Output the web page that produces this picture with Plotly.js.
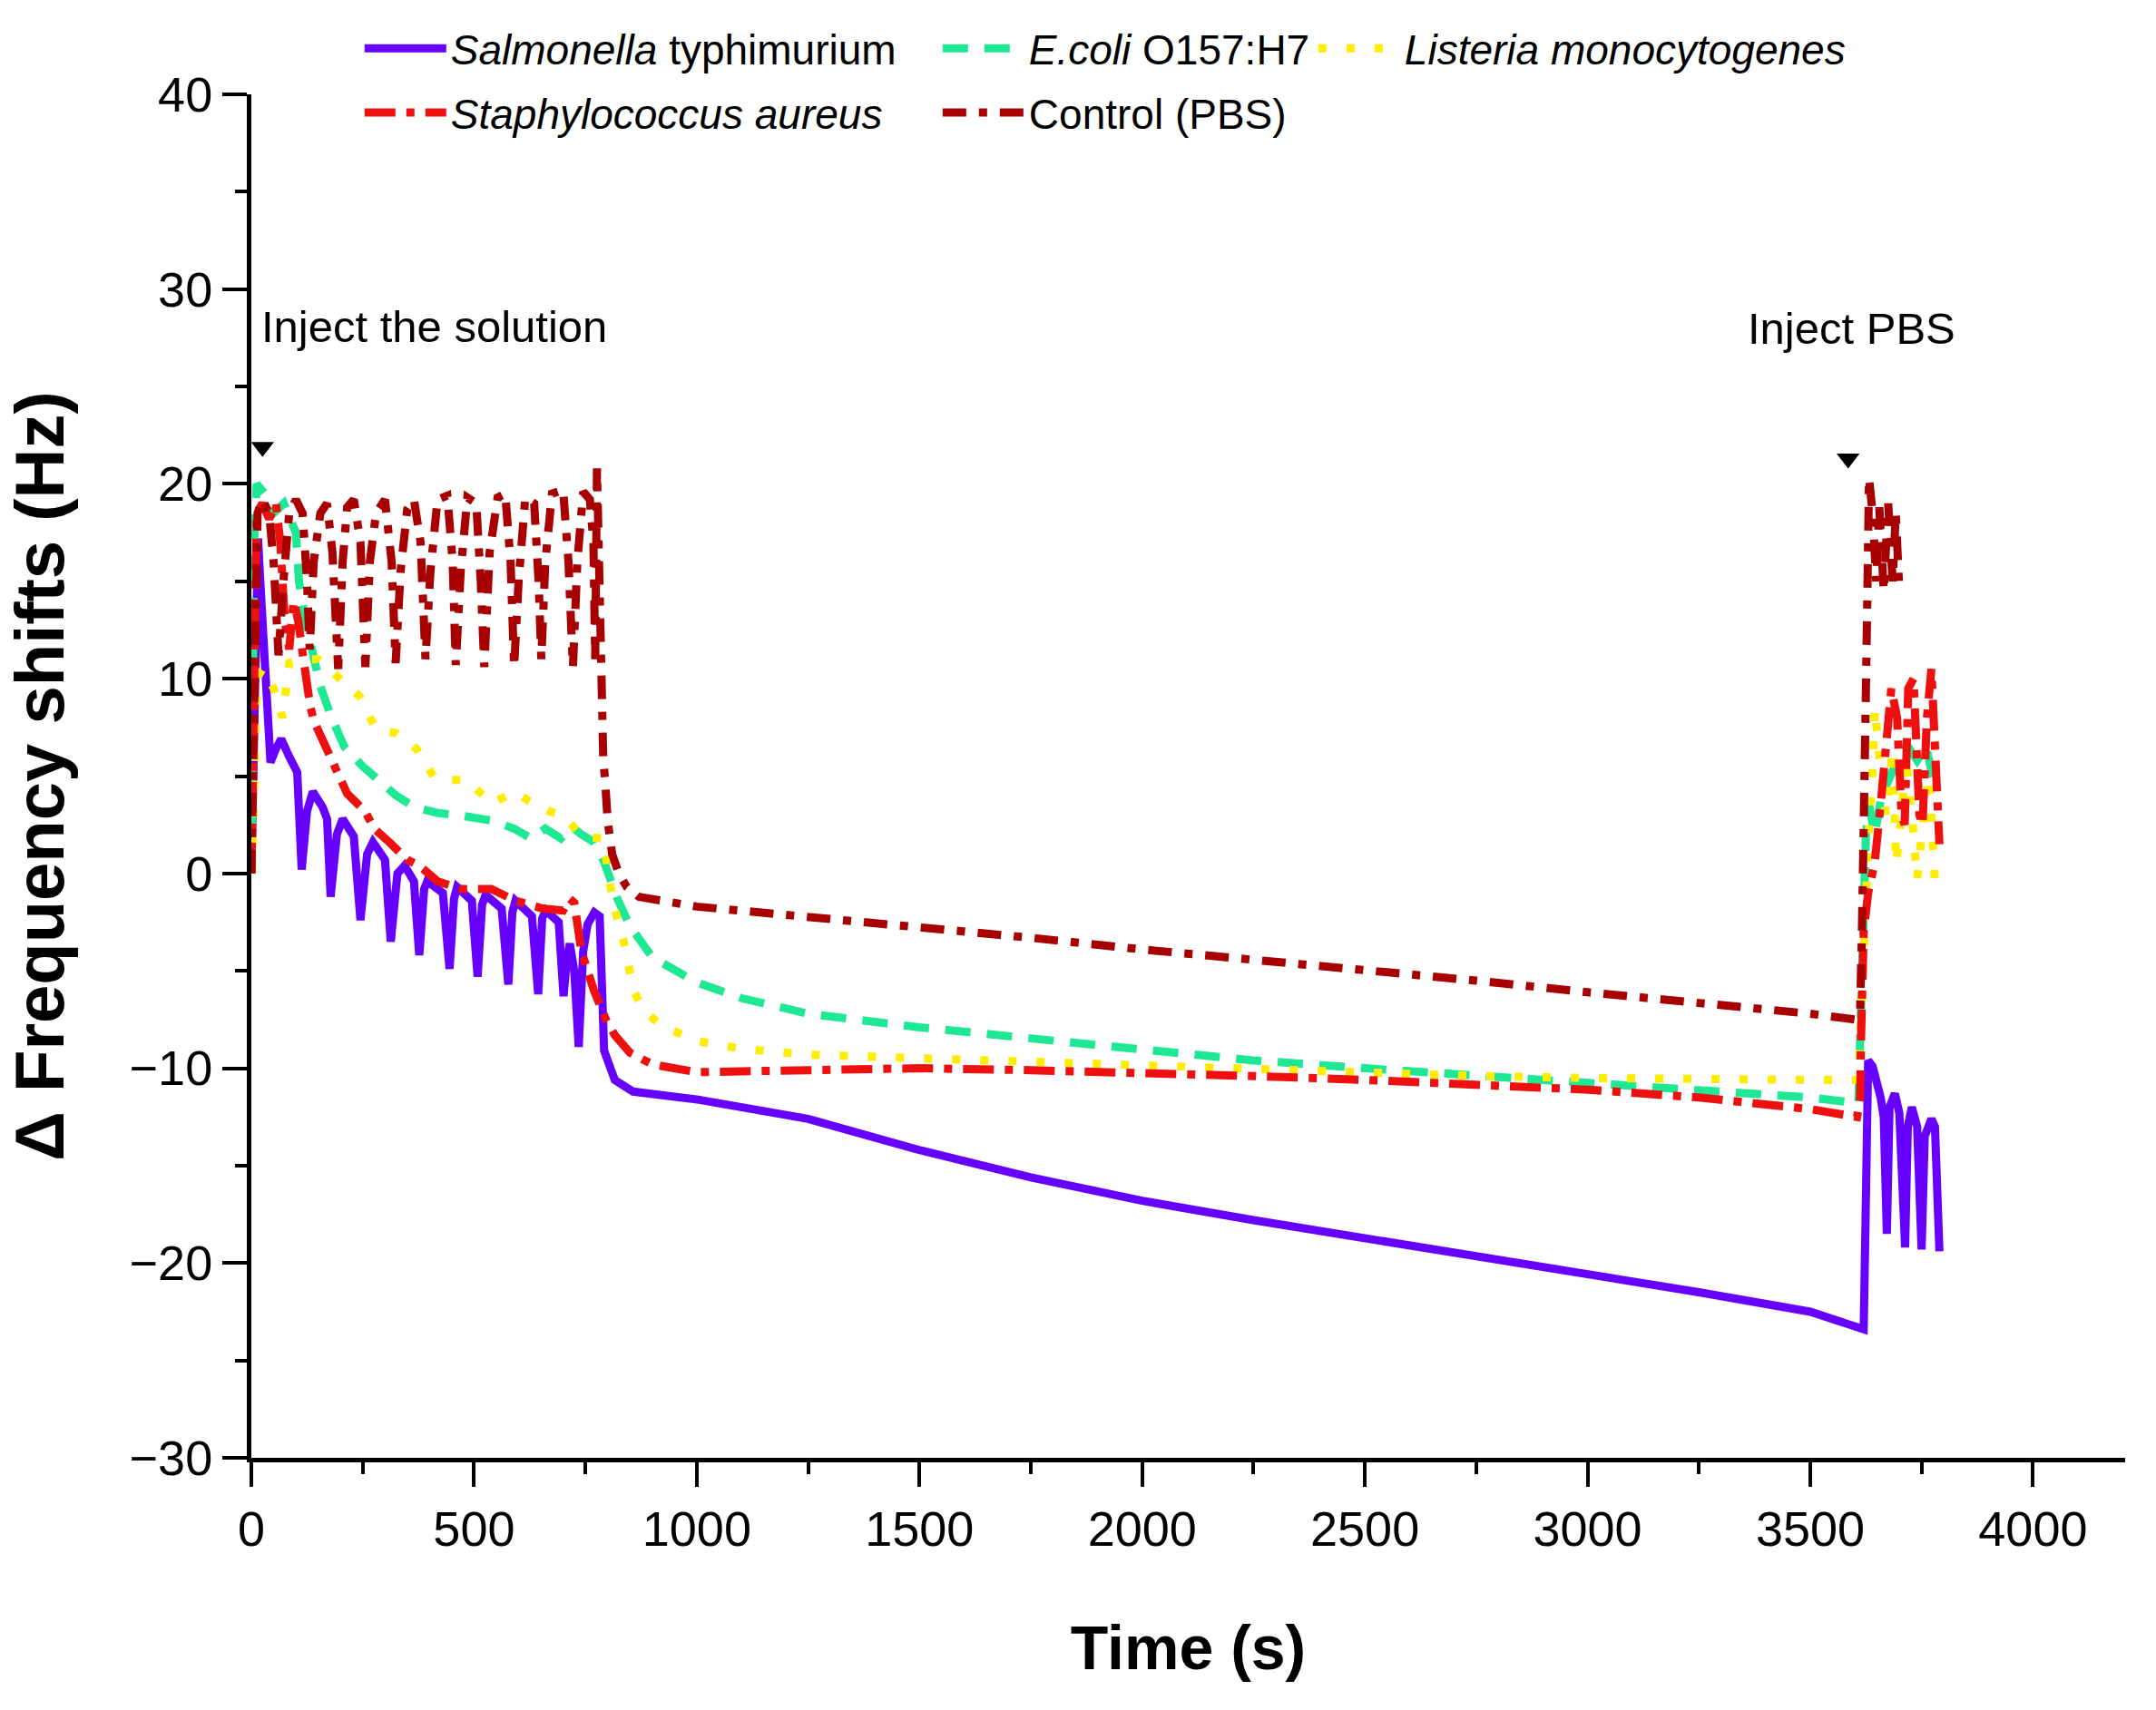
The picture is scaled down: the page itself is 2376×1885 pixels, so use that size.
<!DOCTYPE html>
<html>
<head>
<meta charset="utf-8">
<script src="https://cdn.plot.ly/plotly-3.0.1.min.js"></script>
<style>
  html, body { margin: 0; padding: 0; background: #ffffff; }
  #chart { width: 2376px; height: 1885px; }
</style>
</head>
<body>
<div id="chart"></div>
<script>
// ---------------- data ----------------
const salmonellaTime = [0,5,10,15,20,28,35,43,55,67,85,103,113,125,138,160,170,178,192,205,230,245,260,273,300,313,328,344,365,377,388,395,430,445,455,462,495,508,518,526,562,577,586,593,630,644,653,661,690,701,708,715,725,735,745,755,770,782,792,816,857,1000,1250,1500,1750,2000,2250,2500,2750,3000,3250,3500,3620,3624,3630,3640,3648,3658,3665,3672,3678,3690,3700,3713,3719,3728,3740,3750,3757,3772,3780,3788,3790];
const salmonellaShift = [0,8,15,17.2,15,12,10.3,5.7,6.4,6.9,6.0,5.2,0.2,3.2,4.2,3.4,2.8,-1.2,2.0,2.8,1.9,-2.4,1.0,1.6,0.7,-3.5,0.0,0.4,-0.4,-4.2,-0.8,-0.4,-1.0,-4.9,-1.3,-0.7,-1.4,-5.3,-1.6,-1.1,-1.8,-5.7,-2.0,-1.4,-2.2,-6.2,-2.3,-1.9,-2.5,-6.3,-4.5,-3.6,-5.0,-8.9,-4.0,-2.6,-2.0,-2.2,-9.1,-10.6,-11.2,-11.6,-12.6,-14.2,-15.6,-16.8,-17.8,-18.7,-19.6,-20.6,-21.5,-22.5,-23.4,-18,-9.6,-9.9,-10.5,-11.5,-12.5,-18.5,-12,-11.3,-12.3,-19.2,-13,-12.0,-13,-19.3,-13.5,-12.6,-13,-19.3,-19.4];

const ecoliTime = [0,3,6,12,30,50,73,100,107,121,141,155,180,209,250,285,325,367,420,462,500,543,590,628,660,695,720,741,770,792,820,850,900,1000,1100,1250,1500,1750,2000,2250,2500,2750,3000,3250,3500,3608,3614,3618,3625,3632,3645,3660,3680,3700,3720,3740,3760,3775,3790];
const ecoliShift = [0,10,17,20,19.5,18.5,19,17.5,15,13,11,9.6,8,6.5,5.5,4.8,4.0,3.4,3.1,3.0,2.9,2.7,2.3,1.8,2.3,1.8,2.4,2.0,1.6,0.6,-1.2,-2.7,-4.3,-5.6,-6.4,-7.2,-7.9,-8.5,-9.1,-9.6,-10.0,-10.4,-10.8,-11.2,-11.5,-11.8,-7,-3,2,3.5,2,4,5,6,6.5,5.8,6.5,5,4.4];

const listeriaTime = [0,5,12,25,50,70,85,120,150,202,243,280,326,371,411,450,484,539,593,624,668,701,741,790,812,836,858,880,920,1000,1100,1250,1500,1750,2000,2250,2500,2750,3000,3250,3500,3608,3615,3620,3625,3632,3640,3645,3655,3670,3685,3693,3705,3715,3730,3740,3755,3767,3780,3790];
const listeriaShift = [0,3,10,10.5,9.5,8,10.8,11,11,10,9.1,7.4,7.2,6.4,4.9,4.8,4.8,3.6,4.2,3.7,3.2,3.0,1.9,1.8,-1.5,-3.5,-6,-7,-7.8,-8.6,-9.0,-9.3,-9.5,-9.6,-9.8,-10.0,-10.2,-10.4,-10.5,-10.6,-10.6,-10.6,-6,-3,-0.5,2.4,5.5,8.5,6,3,6.4,0.5,3,6,2.5,-0.3,3,5,-0.5,-0.8];

const staphTime = [0,4,8,12,25,40,55,65,75,85,95,105,114,121,132,141,162,188,215,255,276,310,350,377,418,472,539,593,654,700,715,725,741,769,796,816,850,900,1000,1250,1500,1750,2000,2250,2500,2750,3000,3250,3500,3605,3612,3614,3620,3630,3645,3660,3672,3682,3695,3705,3712,3720,3732,3745,3752,3762,3772,3780,3790];
const staphShift = [0,6,13,18.5,19,18.2,19,17,13,11.5,14,13,11.5,10,8.6,7.8,6.8,5.5,4.1,3.2,2.3,1.6,0.7,0.4,-0.4,-0.8,-0.8,-1.4,-1.8,-1.9,-1.3,-1.5,-4.0,-6.0,-7.5,-8.3,-9.2,-9.8,-10.2,-10.1,-10.0,-10.1,-10.2,-10.4,-10.6,-10.8,-11.1,-11.5,-12.1,-12.5,-11.5,-8.5,-3,-1,0.6,4,7.5,9.5,8,3,2.5,9.5,10,3,2.5,8,10.5,7,1.5];

const controlTime = [0,4,8,14,25,40,50,61,72,85,100,115,125,131,140,155,170,182,195,205,215,230,245,256,266,280,300,315,324,335,350,365,380,391,402,418,440,452,459,470,485,505,515,523,535,553,570,582,590,600,615,635,645,651,660,675,700,712,722,732,745,760,768,772,776,780,784,790,795,800,810,825,843,870,1000,1250,1500,1750,2000,2250,2500,2750,3000,3250,3500,3600,3612,3616,3620,3624,3628,3632,3640,3648,3655,3665,3675,3685,3692,3700];
const controlShift = [0,6,14,18.5,19.2,18.5,16,11.2,15,18.5,19.2,18.5,15,11.5,16,18.5,19,16.5,10.5,16,18.8,19.2,17,10.6,16,18.5,19.2,16,10.8,15.5,18.7,19.2,17,11,15.5,19.2,19.4,16,10.7,15.5,19.3,19,15,10.6,16.5,19.3,19.5,16,10.6,15,19.3,19,15,11,16,19.5,19.7,16,10.6,16,19.6,19.2,17,11,20.8,17,10.3,6,4.5,2.7,1.0,0,-0.7,-1.2,-1.7,-2.2,-2.7,-3.3,-3.9,-4.4,-5.0,-5.5,-6.1,-6.6,-7.2,-7.5,-7,-3,1,8,14,20.3,18.5,15,18.8,14.5,19,15,18.5,14.5];

const injectionTime = [25, 3585];
const injectionShift = [21.9, 21.3];
const injectionLabels = ['Inject the solution', 'Inject PBS'];
const injectionLabelTime = [18, 3593];
const injectionLabelShift = [28.1, 28.0];

const xTickValues = [0, 500, 1000, 1500, 2000, 2500, 3000, 3500, 4000];
const yTickValues = [-30, -20, -10, 0, 10, 20, 30, 40];

const seriesNames = [
  '<i>Salmonella</i> typhimurium',
  '<i>E.coli</i> O157:H7',
  '<i>Listeria monocytogenes</i>',
  '<i>Staphylococcus aureus</i>',
  'Control (PBS)'
];

// ---------------- styling ----------------
const SANS = 'Liberation Sans, Arial, sans-serif';

const traces = [
  {x: salmonellaTime, y: salmonellaShift, name: seriesNames[0], legend: 'legend', legendgroup: 'g1',
   mode: 'lines', line: {color: '#6600FF', width: 9}},
  {x: ecoliTime, y: ecoliShift, name: seriesNames[1], legend: 'legend2', legendgroup: 'g2',
   mode: 'lines', line: {color: '#1FE895', width: 9, dash: '28px,18px'}},
  {x: listeriaTime, y: listeriaShift, name: seriesNames[2], legend: 'legend3', legendgroup: 'g3',
   mode: 'lines', line: {color: '#FFED00', width: 9, dash: '9px,22px'}},
  {x: staphTime, y: staphShift, name: seriesNames[3], legend: 'legend', legendgroup: 'g4',
   mode: 'lines', line: {color: '#EE0F0F', width: 9, dash: '34px,12px,9px,12px'}},
  {x: controlTime, y: controlShift, name: seriesNames[4], legend: 'legend2', legendgroup: 'g5',
   mode: 'lines', line: {color: '#A80000', width: 9, dash: '26px,14px,9px,14px'}},
  {x: injectionTime, y: injectionShift, mode: 'markers', showlegend: false, hoverinfo: 'skip',
   marker: {symbol: 'triangle-down', size: 22, color: '#000000'}}
];

const legendBase = {
  orientation: 'v', xanchor: 'left', yanchor: 'top', y: 1.058,
  font: {family: SANS, size: 46, color: '#000000'},
  bgcolor: 'rgba(0,0,0,0)', borderwidth: 0, itemwidth: 90,
  tracegroupgap: 8, traceorder: 'grouped', valign: 'middle'
};

const axisCommon = {
  showline: true, linecolor: '#000000', linewidth: 5, mirror: false,
  showgrid: false, zeroline: false,
  ticks: 'outside', ticklen: 27, tickwidth: 4, tickcolor: '#000000',
  tickfont: {family: SANS, size: 54, color: '#000000'},
  automargin: false
};

const layout = {
  width: 2376, height: 1885,
  paper_bgcolor: '#ffffff', plot_bgcolor: '#ffffff',
  margin: {l: 277, r: 34, t: 104, b: 278},
  showlegend: true,
  xaxis: Object.assign({}, axisCommon, {
    range: [0, 4207], tickmode: 'array', tickvals: xTickValues,
    minor: {ticks: 'outside', ticklen: 13, tickwidth: 4, tickcolor: '#000000', dtick: 250, showgrid: false},
    title: {text: 'Time (s)', standoff: 80, font: {family: SANS, size: 68, color: '#000000', weight: 'bold'}}
  }),
  yaxis: Object.assign({}, axisCommon, {
    range: [-30, 40], tickmode: 'array', tickvals: yTickValues,
    minor: {ticks: 'outside', ticklen: 13, tickwidth: 4, tickcolor: '#000000', dtick: 5, showgrid: false},
    title: {text: '\u0394 Frequency shifts (Hz)', standoff: 48, font: {family: SANS, size: 76, color: '#000000', weight: 'bold'}}
  }),
  legend: Object.assign({}, legendBase, {x: 0.058}),
  legend2: Object.assign({}, legendBase, {x: 0.3665}),
  legend3: Object.assign({}, legendBase, {x: 0.567}),
  annotations: injectionLabels.map((t, i) => ({
    x: injectionLabelTime[i], y: injectionLabelShift[i], xref: 'x', yref: 'y',
    text: t, showarrow: false, xanchor: i === 0 ? 'left' : 'center', yanchor: 'middle',
    font: {family: SANS, size: 49, color: '#000000'}
  }))
};

Plotly.newPlot('chart', traces, layout, {displayModeBar: false, staticPlot: true});
</script>
</body>
</html>
